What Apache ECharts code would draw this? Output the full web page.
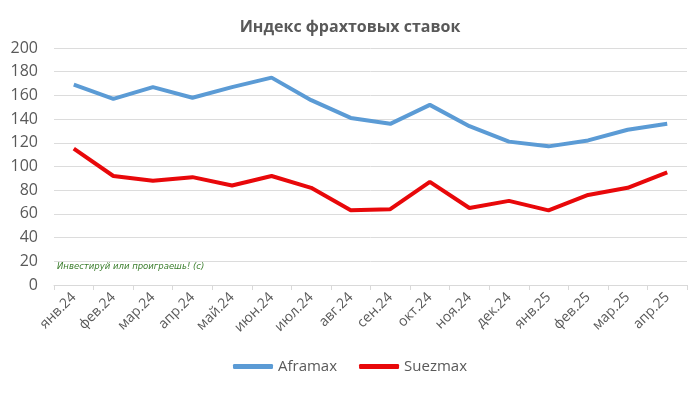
<!DOCTYPE html>
<html><head><meta charset="utf-8">
<script src="https://cdn.jsdelivr.net/npm/echarts@6/dist/echarts.min.js"></script>
<style>html,body{margin:0;padding:0;background:#fff}#c{width:700px;height:393px}</style>
</head><body><div id="c"></div>
<script>
const categories = ['янв.24','фев.24','мар.24','апр.24','май.24','июн.24','июл.24','авг.24','сен.24','окт.24','ноя.24','дек.24','янв.25','фев.25','мар.25','апр.25'];
const aframax = [169,157,167,158,167,175,156,141,136,152,134,121,117,122,131,136];
const suezmax = [115,92,88,91,84,92,82,63,64,87,65,71,63,76,82,95];
const chart = echarts.init(document.getElementById('c'));
chart.setOption({
  animation:false,
  backgroundColor:'#fff',
  textStyle:{fontFamily:'"Open Sans", "Noto Sans", sans-serif'},
  title:{text:'Индекс фрахтовых ставок',left:'center',top:14,textStyle:{fontSize:16,fontWeight:'bold',color:'#595959',fontFamily:'"Open Sans", sans-serif'}},
  grid:{left:54,right:13,top:48,bottom:108},
  legend:{bottom:14,left:'center',itemWidth:40,itemHeight:5,itemGap:22,icon:'roundRect',
    textStyle:{fontSize:15,color:'#595959'},data:['Aframax','Suezmax']},
  xAxis:{type:'category',data:categories,boundaryGap:true,
    axisLine:{lineStyle:{color:'#d9d9d9'}},
    axisTick:{show:true,length:5,lineStyle:{color:'#d9d9d9'}},
    axisLabel:{rotate:45,fontSize:14,color:'#595959',margin:10}},
  yAxis:{type:'value',min:0,max:200,interval:20,
    axisLabel:{fontSize:16,color:'#595959',margin:16},
    splitLine:{lineStyle:{color:'#dcdcdc'}},axisLine:{show:false},axisTick:{show:false}},
  graphic:[{type:'text',left:57,top:262,style:{text:'Инвестируй или проиграешь! (с)',fill:'#3a7d2c',font:'italic 8.5px "DejaVu Sans", sans-serif'}}],
  series:[
    {name:'Aframax',type:'line',data:aframax,symbol:'none',lineStyle:{width:4,color:'#5B9BD5'},itemStyle:{color:'#5B9BD5'}},
    {name:'Suezmax',type:'line',data:suezmax,symbol:'none',lineStyle:{width:4,color:'#E8080A'},itemStyle:{color:'#E8080A'}}
  ]
});
</script></body></html>
